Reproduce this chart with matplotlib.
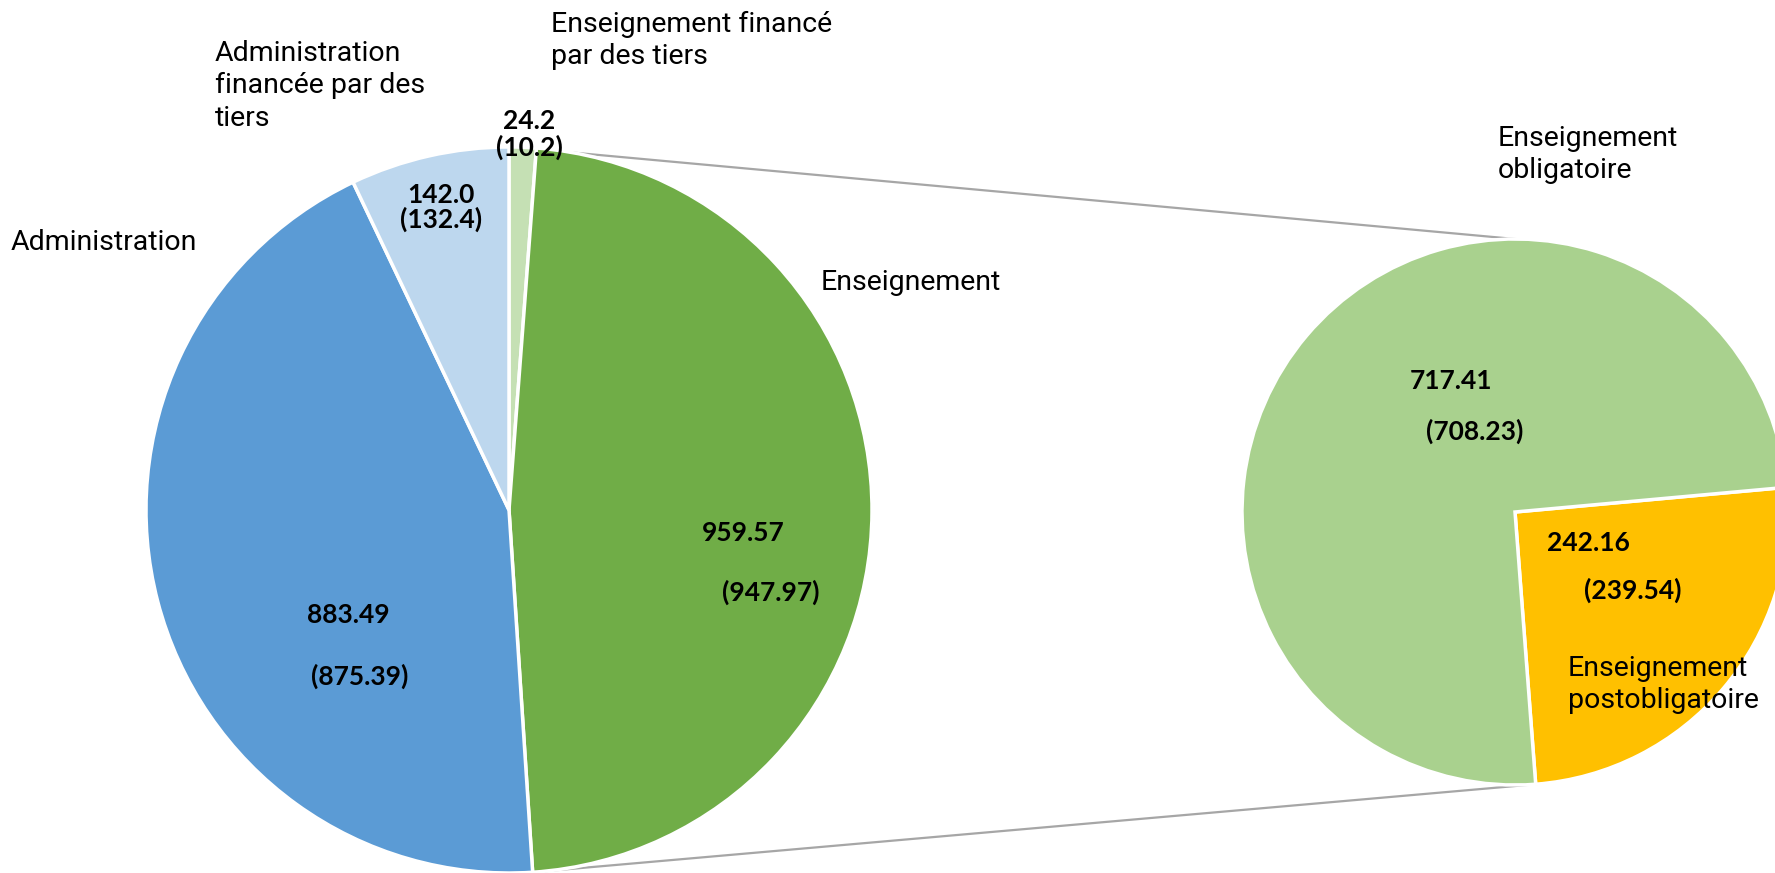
import numpy as np
import matplotlib
matplotlib.use("Agg")
import matplotlib.pyplot as plt

# left pie (clockwise from 12 o'clock)
main_labels = ["Enseignement financé\npar des tiers", "Enseignement", "Administration",
               "Administration\nfinancée par des\ntiers"]
main_values = [24.2, 959.57, 883.49, 142.0]
main_prev = [10.2, 947.97, 875.39, 132.4]
main_colors = ["#C5E0B4", "#70AD47", "#5B9BD5", "#BDD7EE"]

# right pie: breakdown of "Enseignement"
sub_labels = ["Enseignement\npostobligatoire", "Enseignement\nobligatoire"]
sub_values = [242.16, 717.41]
sub_prev = [239.54, 708.23]
sub_colors = ["#FFC000", "#A9D18E"]

W, H = 1775, 873
fig = plt.figure(figsize=(W / 100, H / 100), dpi=100)
ax = fig.add_axes([0, 0, 1, 1])

c1, r1 = (509, 363), 363
c2, r2 = (1515, 361), 273
edge = dict(edgecolor="white", linewidth=2.5)

ax.pie(main_values, colors=main_colors, startangle=90, counterclock=False,
       center=c1, radius=r1, wedgeprops=edge, frame=False)
ax.pie(sub_values, colors=sub_colors, startangle=5.2, counterclock=False,
       center=c2, radius=r2, wedgeprops=edge, frame=False)


def on_circle(c, r, a):
    # a = degrees clockwise from 12 o'clock
    t = np.radians(a)
    return c[0] + r * np.sin(t), c[1] + r * np.cos(t)


# connector lines
for a1, a2 in [(10, 0), (176, 175.6)]:
    p, q = on_circle(c1, r1, a1), on_circle(c2, r2, a2)
    ax.plot([p[0], q[0]], [p[1], q[1]], color="#A6A6A6", lw=1.6, zorder=0)

ax.set_xlim(0, W)
ax.set_ylim(0, H)
ax.set_aspect("equal")
ax.axis("off")

lab = dict(family="Roboto", fontweight="normal", fontsize=20.5, color="black",
           linespacing=1.25)
num = dict(family="Lato", fontweight="bold", fontsize=19, color="black", ha="center", va="center")


def Y(y):
    return H - y


# category labels
ax.text(551, Y(11), main_labels[0], ha="left", va="top", **lab)
ax.text(821, Y(282), main_labels[1], ha="left", va="center", **lab)
ax.text(11, Y(243), main_labels[2], ha="left", va="center", **lab)
ax.text(215, Y(40), main_labels[3], ha="left", va="top", **lab)
ax.text(1568, Y(655), sub_labels[0], ha="left", va="top", **lab)
ax.text(1498, Y(125), sub_labels[1], ha="left", va="top", **lab)

# values (previous year in brackets)
num_pos = [((529, 121), (529, 147)), ((743, 533), (771, 592)),
           ((348, 615), (360, 676)), ((441, 195), (441, 219))]
for v, pv, (a, b), d in zip(main_values, main_prev, num_pos, [1, 2, 2, 1]):
    fmt = "{:.%df}" % d
    ax.text(a[0], Y(a[1]), fmt.format(v), **num)
    ax.text(b[0], Y(b[1]), "(" + fmt.format(pv) + ")", **num)

sub_pos = [((1588, 543), (1633, 590)), ((1451, 381), (1475, 431))]
for v, pv, (a, b) in zip(sub_values, sub_prev, sub_pos):
    ax.text(a[0], Y(a[1]), "{:.2f}".format(v), **num)
    ax.text(b[0], Y(b[1]), "({:.2f})".format(pv), **num)

fig.savefig("out.png", dpi=100)
